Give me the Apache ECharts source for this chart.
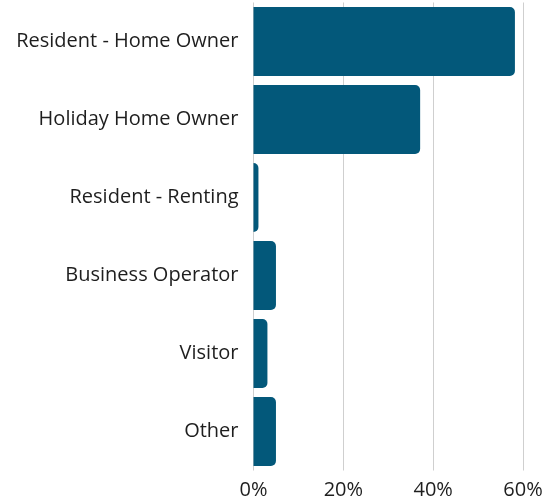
<!DOCTYPE html>
<html>
<head>
<meta charset="utf-8">
<script src="https://cdn.jsdelivr.net/npm/echarts@6/dist/echarts.min.js"></script>
<style>
  html, body { margin: 0; padding: 0; background: #fff; }
  #main { width: 550px; height: 501px; }
</style>
</head>
<body>
<div id="main"></div>
<script>
// categories top to bottom
var categories = ['Resident - Home Owner', 'Holiday Home Owner', 'Resident - Renting', 'Business Operator', 'Visitor', 'Other']
// share of respondents, %
var values = [58.2, 37.1, 1.1, 5.0, 3.1, 5.0]
var ticks = [0, 20, 40, 60]

var chart = echarts.init(document.getElementById('main'))
var option = {
  animation: false,
  grid: {
    left: 253.5,
    right: 27,
    top: 2.5,
    bottom: 30.5,
    containLabel: false
  },
  xAxis: {
    type: 'value',
    min: ticks[0],
    max: ticks[ticks.length - 1],
    interval: 20,
    axisLine: { show: false },
    axisTick: { show: false },
    splitLine: { lineStyle: { color: '#cfcfcf', width: 1 } },
    axisLabel: {
      formatter: '{value}%',
      color: '#1e1e1e',
      fontSize: 20,
      fontFamily: 'Open Sans',
      margin: 10
    }
  },
  yAxis: {
    type: 'category',
    inverse: true,
    data: categories,
    axisLine: { show: false },
    axisTick: { show: false },
    axisLabel: {
      color: '#1e1e1e',
      fontSize: 20,
      fontFamily: 'Open Sans',
      margin: 15,
      padding: [4, 0, 0, 0]
    }
  },
  series: [{
    type: 'bar',
    data: values,
    barCategoryGap: '11.5%',
    itemStyle: {
      color: '#03587a',
      borderRadius: [0, 5, 5, 0]
    }
  }]
}
chart.setOption(option)
</script>
</body>
</html>
